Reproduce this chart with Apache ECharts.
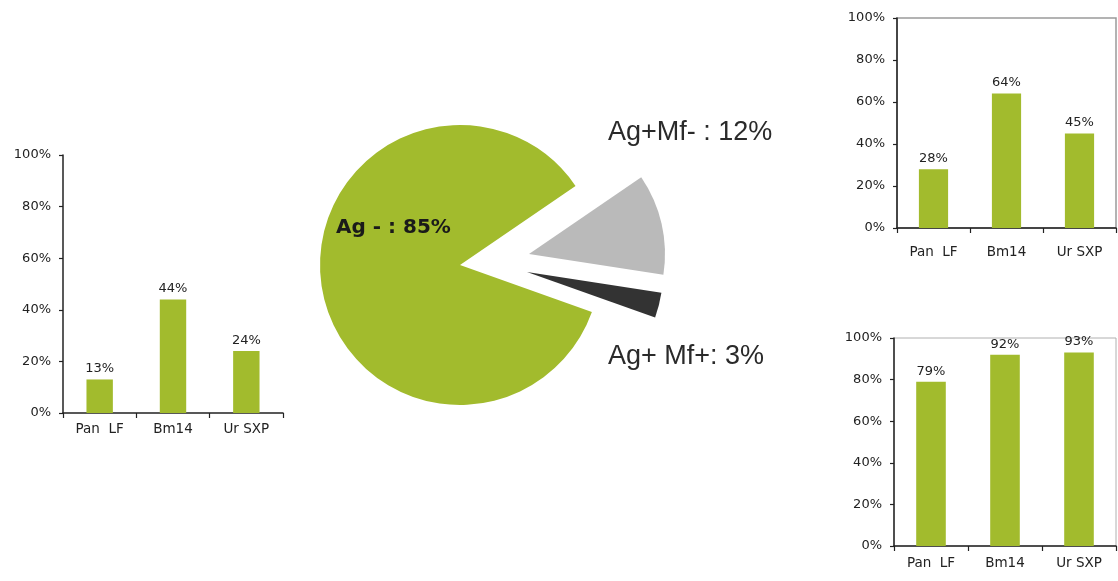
<!DOCTYPE html>
<html>
<head>
<meta charset="utf-8">
<script src="https://cdn.jsdelivr.net/npm/echarts@6/dist/echarts.min.js"></script>
<style>
  html, body { margin: 0; padding: 0; background: #ffffff; }
  #chart { width: 1118px; height: 581px; }
</style>
</head>
<body>
<div id="chart"></div>
<script>
// Categories shared by the three bar panels
const categories = ['Pan  LF', 'Bm14', 'Ur SXP'];

// Bar panel values (percent)
const leftValues = [13, 44, 24];
const topRightValues = [28, 64, 45];
const bottomRightValues = [79, 92, 93];

// Pie slices
const pieNames = ['Ag - ', 'Ag+Mf- ', 'Ag+ Mf+'];
const pieValues = [85, 12, 3];

// Percent axis
const axisMin = 0;
const axisMax = 100;
const axisStep = 20;

const GREEN = '#a2bb2d';
const pieColors = [GREEN, '#bababa', '#333333'];
const FONT = 'DejaVu Sans';
const INK = '#222222';

const chart = echarts.init(document.getElementById('chart'), null, { renderer: 'canvas' });

function xAxisFor(gridIndex, labelMargin) {
  return {
    type: 'category',
    gridIndex: gridIndex,
    data: categories,
    axisLine: { show: true, lineStyle: { color: INK, width: 1.5 } },
    axisTick: { show: true, length: 5, lineStyle: { color: INK, width: 1.2 } },
    axisLabel: { fontFamily: FONT, fontSize: 13.5, color: INK, margin: labelMargin },
    splitLine: { show: false }
  };
}

function yAxisFor(gridIndex) {
  return {
    type: 'value',
    gridIndex: gridIndex,
    min: axisMin,
    max: axisMax,
    interval: axisStep,
    axisLine: { show: true, lineStyle: { color: INK, width: 1.5 } },
    axisTick: { show: true, length: 4, lineStyle: { color: INK, width: 1.2 } },
    axisLabel: { fontFamily: FONT, fontSize: 13, color: INK, margin: 12, formatter: '{value}%' },
    splitLine: { show: false }
  };
}

function barSeries(idx, values, width) {
  return {
    type: 'bar',
    xAxisIndex: idx,
    yAxisIndex: idx,
    data: values,
    barWidth: width,
    silent: true,
    itemStyle: { color: GREEN },
    label: {
      show: true,
      position: 'top',
      distance: 4,
      formatter: '{c}%',
      fontFamily: FONT,
      fontSize: 13,
      color: INK
    }
  };
}

// Where each slice sits (the two small slices are pulled out of the pie)
const pieCenters = [[460, 265], [529, 254], [527, 272]];
const pieRadii = [140, 136, 136];
// Label anchor (left edge, vertical middle) for each slice
const pieLabelPos = [[336, 228], [608, 133], [608, 357]];
const pieLabelStyle = [
  { fontFamily: FONT, fontSize: 20, fontWeight: 'bold', color: '#1a1a1a' },
  { fontFamily: 'Liberation Sans', fontSize: 27, color: '#2a2a2a' },
  { fontFamily: 'Liberation Sans', fontSize: 27, color: '#2a2a2a' }
];

function pieSeries(k) {
  return {
    type: 'pie',
    center: pieCenters[k],
    radius: [0, pieRadii[k]],
    startAngle: -19.6,
    clockwise: true,
    silent: true,
    avoidLabelOverlap: false,
    emphasis: { disabled: true },
    labelLine: { show: false },
    data: pieNames.map((name, i) => ({
      name: name,
      value: pieValues[i],
      itemStyle: { color: i === k ? pieColors[i] : 'rgba(0,0,0,0)', borderWidth: 0 },
      label: Object.assign({
        show: i === k,
        position: 'outside',
        formatter: (p) => p.name + ': ' + p.value + '%'
      }, pieLabelStyle[i])
    })),
    labelLayout: (params) => ({
      x: pieLabelPos[params.dataIndex][0],
      y: pieLabelPos[params.dataIndex][1],
      align: 'left',
      verticalAlign: 'middle'
    })
  };
}

const option = {
  backgroundColor: '#ffffff',
  animation: false,
  grid: [
    { left: 63, top: 155, width: 220, height: 258, show: false },
    { left: 897, top: 18, width: 219, height: 210, show: true, borderColor: '#9a9a9a', borderWidth: 1.5, backgroundColor: 'transparent' },
    { left: 894, top: 338, width: 222, height: 208, show: true, borderColor: '#b0b0b0', borderWidth: 1, backgroundColor: 'transparent' }
  ],
  xAxis: [xAxisFor(0, 9), xAxisFor(1, 17), xAxisFor(2, 10)],
  yAxis: [yAxisFor(0), yAxisFor(1), yAxisFor(2)],
  series: [
    barSeries(0, leftValues, '36%'),
    barSeries(1, topRightValues, '40%'),
    barSeries(2, bottomRightValues, '40%'),
    pieSeries(0),
    pieSeries(1),
    pieSeries(2)
  ]
};

chart.setOption(option);
</script>
</body>
</html>
